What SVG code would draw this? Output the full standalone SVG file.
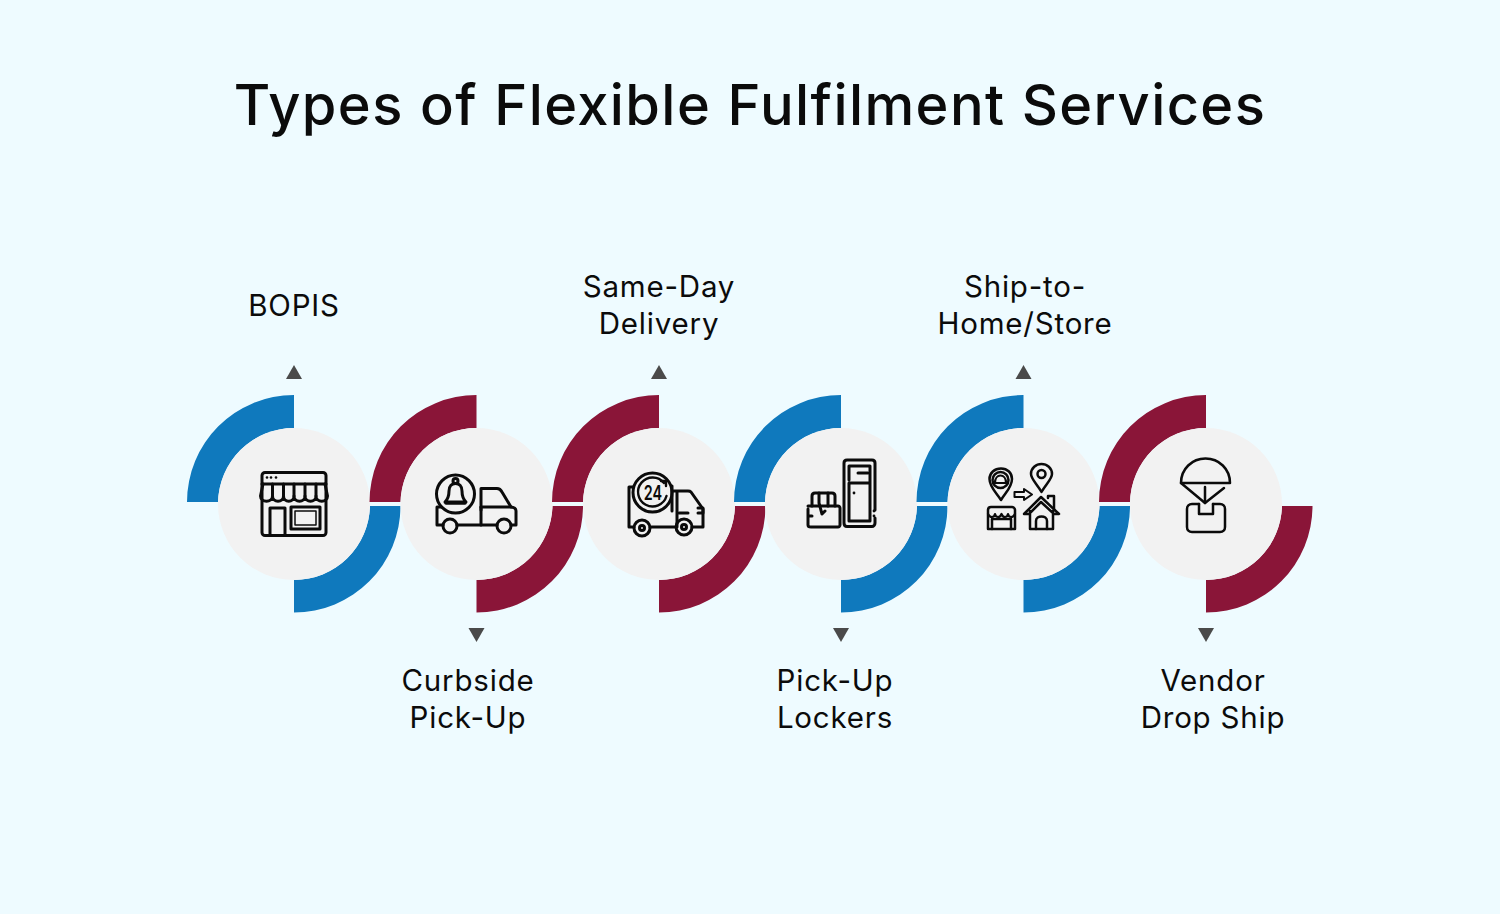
<svg xmlns="http://www.w3.org/2000/svg" width="1500" height="914" viewBox="0 0 1500 914">
<style>
text{font-family:"Inter","Noto Sans",sans-serif;fill:#0b0b0b;text-anchor:middle}
.title{font-size:56px;font-weight:500;letter-spacing:1.400px}
.lab{font-size:29.500px;font-weight:400;letter-spacing:.8px}
.blue{fill:#0f79bd}
.red{fill:#8a1538}
.disc{fill:#f2f2f2}
.tri{fill:#4a4a4a}
.ic{fill:none;stroke:#0b0b0b;stroke-width:3;stroke-linejoin:round;stroke-linecap:round}
.dot{fill:#0b0b0b}
</style>
<defs>
<path id="arcT" d="M-107 -2A107 107 0 0 1 0 -109V-76A76 76 0 0 0 -76 -2Z"/>
<path id="arcB" d="M106.500 2A106.500 106.500 0 0 1 0 108.500V76A76 76 0 0 0 76 2Z"/>
<circle id="disc" r="76" class="disc"/>
<path id="up" d="M0 -7L8 7H-8Z" class="tri"/>
<path id="down" d="M0 7L8 -7H-8Z" class="tri"/>
</defs>
<rect width="1500" height="914" fill="#eefbff"/>
<text class="title" x="750" y="125">Types of Flexible Fulfilment Services</text>

<g id="connectors">
<use href="#up" x="294" y="372"/>
<use href="#down" x="476.5" y="635"/>
<use href="#up" x="659" y="372"/>
<use href="#down" x="841" y="635"/>
<use href="#up" x="1023.5" y="372"/>
<use href="#down" x="1206" y="635"/>
</g>

<g id="node-bopis">
<use href="#arcT" x="294" y="504" class="blue"/><use href="#arcB" x="294" y="504" class="blue"/><use href="#disc" x="294" y="504"/>
<g class="ic">
<rect x="262" y="472.500" width="64" height="63" rx="3"/>
<path d="M262 484H326"/>
<path d="M263 484L260.500 496C260.500 503 272.500 503 272.500 496C272.500 503 283.500 503 283.500 496C283.500 503 294 503 294 496C294 503 305 503 305 496C305 503 316 503 316 496C316 503 327.500 503 327.500 496L325 484"/>
<path d="M272.500 484V496M283.500 484V496M294 484V496M305 484V496M316 484V496"/>
<path d="M270 535V508H285V535"/>
<rect x="291" y="507" width="29" height="22"/>
<rect x="295" y="511" width="21" height="14" stroke-width="1.500"/>
</g>
<g class="dot"><circle cx="267" cy="477.500" r="1.300"/><circle cx="271" cy="477.500" r="1.300"/><circle cx="276" cy="477.500" r="1.300"/></g>
<text class="lab" x="294" y="315.500">BOPIS</text>
</g>

<g id="node-curbside">
<use href="#arcT" x="476.500" y="504" class="red"/><use href="#arcB" x="476.500" y="504" class="red"/><use href="#disc" x="476.500" y="504"/>
<g class="ic">
<circle cx="455.500" cy="494" r="19"/>
<path d="M445 502C449 498 449 494 449 491C449 486 452 483.500 455.500 483.500C459 483.500 462 486 462 491C462 494 462 498 466 502Z"/>
<circle cx="455.500" cy="481" r="2.500"/>
<path d="M446 503H465" stroke-width="3.500"/>
<path d="M481 510V488.500H497C500 488.500 501 490 502 492L511 507"/>
<path d="M481 507H511C514 507 516 509 516 511V525H511M497 525H457M443 525H437V507H441"/>
<path d="M481 507V525"/>
<circle cx="450" cy="526" r="7"/>
<circle cx="504" cy="526" r="7"/>
</g>
<text class="lab" x="468" y="690.500">Curbside</text>
<text class="lab" x="468" y="727.500">Pick-Up</text>
</g>

<g id="node-sameday">
<use href="#arcT" x="659" y="504" class="red"/><use href="#arcB" x="659" y="504" class="red"/><use href="#disc" x="659" y="504"/>
<g class="ic">
<circle cx="652.500" cy="492.500" r="19.500"/>
<path d="M664 483A14.500 14.500 0 1 0 666.500 496" stroke-width="2.400"/>
<path d="M661 481H666V486" stroke-width="2.400"/>
<path d="M633 487H629V527H634M650 527H675M692 527H703V509L691 492C690 491 689 491 688 491H674M677 491V527M672 486V511"/>
<path d="M679 513H688"/>
<path d="M698 508H703V513H698"/>
<circle cx="642" cy="528" r="8"/><circle cx="642" cy="528" r="2.500"/>
<circle cx="684" cy="527" r="8"/><circle cx="684" cy="527" r="2.500"/>
</g>
<text transform="translate(653 500) scale(0.72 1)" x="0" y="0" style="font-size:20px;font-weight:600">24</text>
<text class="lab" x="659" y="296.500">Same-Day</text>
<text class="lab" x="659" y="333.500">Delivery</text>
</g>

<g id="node-lockers">
<use href="#arcT" x="841" y="504" class="blue"/><use href="#arcB" x="841" y="504" class="blue"/><use href="#disc" x="841" y="504"/>
<g class="ic">
<path d="M875 510V463C875 461 873.500 460 872 460H847C845 460 844 461 844 463V523C844 525 845 526.500 847 526.500H872C873.500 526.500 875 525 875 523V518"/>
<path d="M849 480V466H870V483H849V521H870V483"/>
<path d="M858 473H868" stroke-width="3"/>
<path d="M808 506H838C839 506 840 507 840 508V525C840 526 839 527 838 527H811C809 527 808 526 808 525V509M808 516H812"/>
<path d="M812 506V496C812 494 813 493 815 493H832C834 493 835 494 835 496V506"/>
<path d="M819 493V503L822 514L825 511M828 493V506"/>
</g>
<g class="dot"><circle cx="854" cy="493" r="1.400"/><circle cx="874" cy="511" r="1.400"/><circle cx="874" cy="516" r="1.400"/></g>
<text class="lab" x="835" y="690.500">Pick-Up</text>
<text class="lab" x="835" y="727.500">Lockers</text>
</g>

<g id="node-ship">
<use href="#arcT" x="1023.500" y="504" class="blue"/><use href="#arcB" x="1023.500" y="504" class="blue"/><use href="#disc" x="1023.500" y="504"/>
<g class="ic" style="stroke-width:2.500">
<path d="M1001 500C996 492 989.500 487 989.500 479C989.500 473 994.500 468.500 1001 468.500C1007.500 468.500 1012 473 1012 479C1012 487 1006 492 1001 500Z"/>
<circle cx="1000.500" cy="480" r="8"/>
<path d="M994 483H1007M995 483C995 473 1006 473 1006 483" stroke-width="2.200"/>
<path d="M1041.500 492C1037 484 1031 479 1031 474C1031 468 1036 464 1041.500 464C1047 464 1052 468 1052 474C1052 479 1046 484 1041.500 492Z"/>
<circle cx="1041.500" cy="474" r="4"/>
<path d="M1014.500 492H1024V489L1032 494.500L1024 500V497H1014.500Z" stroke-width="2"/>
<path d="M988 529V510C988 508 989 507 991 507H1012C1013 507 1015 508 1015 510V529Z"/>
<path d="M988 514C990 518 994 518 995 514C996 518 1000 518 1001.500 514C1003 518 1007 518 1008 514C1009 518 1013 518 1015 514" stroke-width="2.200"/>
<path d="M992 529V519H1011V529"/>
<path d="M1024 514L1041 497L1059 514H1054L1041 502L1029 514ZM1030 511V529H1053V511"/>
<path d="M1036 529V521C1036 515 1047 515 1047 521V529"/>
<path d="M1048 498V496H1054V510"/>
</g>
<text class="lab" x="1025" y="296.500">Ship-to-</text>
<text class="lab" x="1025" y="333.500">Home/Store</text>
</g>

<g id="node-dropship">
<use href="#arcT" x="1206" y="504" class="red"/><use href="#arcB" x="1206" y="504" class="red"/><use href="#disc" x="1206" y="504"/>
<g class="ic" style="stroke-width:2.500">
<path d="M1181 483C1181 469 1192 458.500 1205.500 458.500C1219 458.500 1230 469 1230 483Z"/>
<path d="M1181 483L1205 503L1224 488"/>
<path d="M1205 487V503"/>
<path d="M1199 504H1192C1189 504 1187 506 1187 509V527C1187 530 1189 532 1192 532H1220C1223 532 1225 530 1225 527V509C1225 506 1223 504 1220 504H1213"/>
<path d="M1199 504V514H1213V504"/>
</g>
<text class="lab" x="1213" y="690.500">Vendor</text>
<text class="lab" x="1213" y="727.500">Drop Ship</text>
</g>
</svg>
